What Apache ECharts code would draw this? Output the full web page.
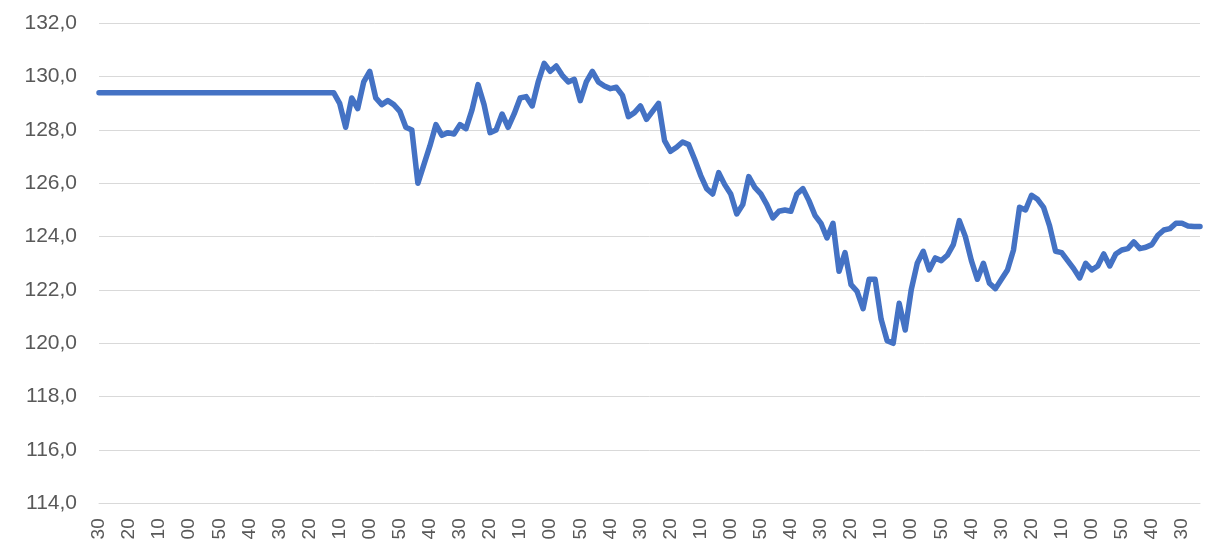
<!DOCTYPE html>
<html>
<head>
<meta charset="utf-8">
<script src="https://cdn.jsdelivr.net/npm/echarts@6/dist/echarts.min.js"></script>
<style>
  html, body { margin: 0; padding: 0; background: #ffffff; }
  #chart { width: 1219px; height: 545px; }
</style>
</head>
<body>
<div id="chart"></div>
<script>
// Visible tick labels along the x axis (one every 5 data points)
const tickLabels = ["30","20","10","00","50","40","30","20","10","00","50","40",
                    "30","20","10","00","50","40","30","20","10","00","50","40",
                    "30","20","10","00","50","40","30","20","10","00","50","40","30"];
const pointsPerTick = 5;

// Series values
const values = [
  129.4,129.4,129.4,129.4,129.4,129.4,129.4,129.4,129.4,129.4,
  129.4,129.4,129.4,129.4,129.4,129.4,129.4,129.4,129.4,129.4,
  129.4,129.4,129.4,129.4,129.4,129.4,129.4,129.4,129.4,129.4,
  129.4,129.4,129.4,129.4,129.4,129.4,129.4,129.4,129.4,129.4,
  129.0,128.1,129.2,128.8,129.8,130.2,129.2,128.95,129.1,128.95,
  128.7,128.1,128.0,126.0,126.7,127.4,128.2,127.8,127.9,127.85,
  128.2,128.05,128.75,129.7,128.95,127.9,128.0,128.6,128.1,128.6,
  129.2,129.25,128.9,129.8,130.5,130.2,130.4,130.05,129.8,129.9,
  129.1,129.8,130.2,129.8,129.65,129.55,129.6,129.3,128.5,128.65,
  128.9,128.4,128.7,129.0,127.6,127.2,127.35,127.55,127.45,126.9,
  126.3,125.8,125.6,126.4,125.95,125.6,124.85,125.2,126.25,125.85,
  125.6,125.2,124.7,124.95,125.0,124.95,125.6,125.8,125.35,124.8,
  124.5,123.95,124.5,122.7,123.4,122.2,121.95,121.3,122.4,122.4,
  120.9,120.1,120.0,121.5,120.5,122.0,123.0,123.45,122.75,123.2,
  123.1,123.3,123.7,124.6,124.0,123.1,122.4,123.0,122.25,122.05,
  122.4,122.75,123.5,125.1,125.0,125.55,125.4,125.1,124.4,123.45,
  123.4,123.1,122.8,122.45,123.0,122.75,122.9,123.35,122.9,123.35,
  123.5,123.55,123.8,123.55,123.6,123.7,124.05,124.25,124.3,124.5,
  124.5,124.4,124.38,124.38
];

// Category list: tick label at every 5th point, blanks in between
const categories = values.map((_, i) => (i % pointsPerTick === 0 ? tickLabels[i / pointsPerTick] : ''));

const yMin = 114, yMax = 132, yStep = 2;

const chart = echarts.init(document.getElementById('chart'), null, { renderer: 'canvas' });
chart.setOption({
  animation: false,
  backgroundColor: '#ffffff',
  grid: { left: 99, right: 19, top: 23.3, bottom: 41.7, containLabel: false },
  xAxis: {
    type: 'category',
    data: categories,
    boundaryGap: false,
    axisLine: { show: true, lineStyle: { color: '#d9d9d9', width: 1 } },
    axisTick: { show: false },
    splitLine: { show: false },
    axisLabel: {
      interval: pointsPerTick - 1,
      rotate: 90,
      margin: 15,
      color: '#595959',
      fontSize: 19,
      fontFamily: '"Liberation Sans", Arial, sans-serif'
    }
  },
  yAxis: {
    type: 'value',
    min: yMin,
    max: yMax,
    interval: yStep,
    axisLine: { show: false },
    axisTick: { show: false },
    splitLine: { show: true, lineStyle: { color: '#d9d9d9', width: 1 } },
    axisLabel: {
      margin: 22,
      color: '#595959',
      fontSize: 21,
      fontFamily: '"Liberation Sans", Arial, sans-serif',
      formatter: v => v.toFixed(1).replace('.', ',')
    }
  },
  series: [{
    type: 'line',
    data: values,
    showSymbol: false,
    smooth: false,
    lineStyle: { color: '#4472C4', width: 5.5, join: 'round', cap: 'round' },
    itemStyle: { color: '#4472C4' }
  }]
});
</script>
</body>
</html>
